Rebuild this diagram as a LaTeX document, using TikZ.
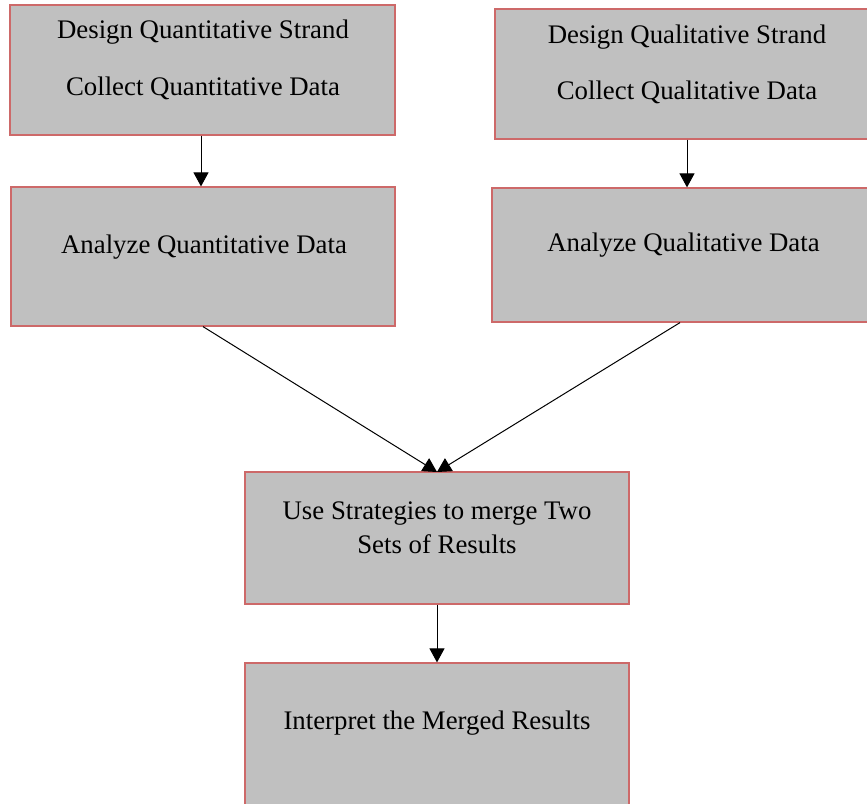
\documentclass[tikz,border=0pt]{standalone}
\usepackage{fontspec}
\setmainfont{Liberation Serif}
\usetikzlibrary{arrows.meta}
\definecolor{boxfill}{RGB}{192,192,192}
\definecolor{boxline}{RGB}{205,105,105}
\begin{document}
\begin{tikzpicture}[x=1pt,y=-1pt,
  box/.style={draw=boxline,fill=boxfill,line width=1.2pt,rectangle,inner sep=0pt},
  lbl/.style={font=\fontsize{26.8}{34}\selectfont,text=black,inner sep=0pt,align=center},
  conn/.style={draw=black,line width=1pt,-{Triangle[length=14pt,width=15pt]}}]
\useasboundingbox (0,0) rectangle (867,803);
\clip (0,0) rectangle (867,803);
\node[box,minimum width=385pt,minimum height=130pt] (b1) at (202.5,70) {};
\node[box,minimum width=384pt,minimum height=130pt] (b2) at (687,74) {};
\node[box,minimum width=384pt,minimum height=139pt] (b3) at (203,256.5) {};
\node[box,minimum width=383pt,minimum height=134pt] (b4) at (683.5,255) {};
\node[box,minimum width=384pt,minimum height=132pt] (b5) at (437,538) {};
\node[box,minimum width=384pt,minimum height=152pt] (b6) at (437,739) {};
\node[lbl] (t1a) at (203,32) {Design Quantitative Strand};
\node[lbl] (t1b) at (203,88) {Collect Quantitative Data};
\node[lbl] (t2a) at (687,37) {Design Qualitative Strand};
\node[lbl] (t2b) at (687,92) {Collect Qualitative Data};
\node[lbl] (t3) at (204,247) {Analyze Quantitative Data};
\node[lbl] (t4) at (683.5,245) {Analyze Qualitative Data};
\node[lbl] (t5) at (437,528) {Use Strategies to merge Two\\Sets of Results};
\node[lbl] (t6) at (437,723) {Interpret the Merged Results};
\coordinate (m5) at (437,472);
\draw[conn] ([xshift=-1.5pt]b1.south) -- ([xshift=-1.5pt]b1.south |- b3.north);
\draw[conn] (b2.south) -- (b2.south |- b4.north);
\draw[conn] (b3.south) -- (m5);
\draw[conn] ([xshift=-3.5pt]b4.south) -- (m5);
\draw[conn] (b5.south) -- (b6.north);
\end{tikzpicture}
\end{document}
